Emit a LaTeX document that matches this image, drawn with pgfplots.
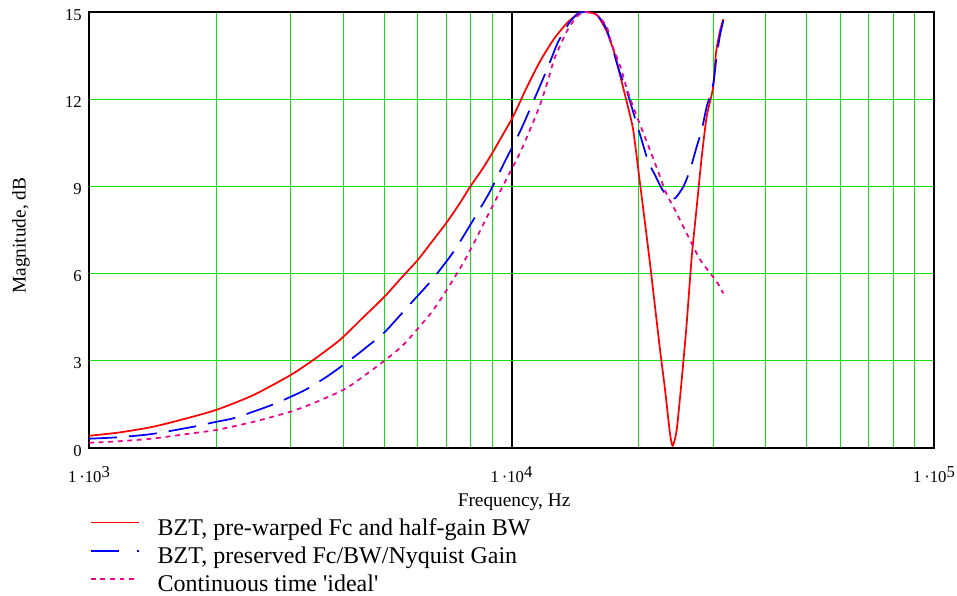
\documentclass[border=0pt]{standalone}
\usepackage{fontspec}
\setmainfont{Liberation Serif}
\usepackage{pgfplots}
\pgfplotsset{compat=1.18}
\definecolor{gridgreen}{RGB}{20,225,20}
\newcommand{\tl}[1]{1\,·10\raisebox{3.2pt}{#1}}
\begin{document}
\begin{tikzpicture}
\begin{axis}[
  at={(0,0)}, anchor=south west,
  scale only axis, width=633.75pt, height=327pt,
  xmode=log, xmin=1000, xmax=100000,
  ymin=0, ymax=15,
  xtick={1000,10000,100000},
  xticklabels={\tl{3},\tl{4},\tl{5}},
  minor xtick={2000,3000,4000,5000,6000,7000,8000,9000,20000,30000,40000,50000,60000,70000,80000,90000},
  ytick={0,3,6,9,12,15},
  yticklabels={0,3,6,9,12,15},
  xmajorgrids, xminorgrids, ymajorgrids,
  major x grid style={black, line width=1.5pt},
  minor x grid style={gridgreen, line width=0.75pt},
  major y grid style={gridgreen, line width=0.75pt},
  major tick length=0pt, minor tick length=0pt,
  axis line style={line width=1.5pt, black},
  tick label style={font=\fontsize{12.5}{15}\selectfont},
  xticklabel style={anchor=base, inner sep=0pt, yshift=-25.5pt},
  yticklabel style={anchor=east, inner sep=0pt, xshift=-5.25pt, yshift=-2pt},
  xlabel={Frequency, Hz},
  ylabel={Magnitude, dB},
  every axis x label/.style={at={(axis description cs:0.503,-0.1353)}, anchor=base, font=\fontsize{14.5}{17}\selectfont},
  every axis y label/.style={at={(axis description cs:-0.0805,0.487)}, rotate=90, anchor=center, font=\fontsize{14.5}{17}\selectfont},
  legend style={draw=none, fill=none, inner sep=0pt, outer sep=0pt,
    at={(axis description cs:0.001,-0.157)}, anchor=north west,
    font=\fontsize{18}{21.25}\selectfont, row sep=0pt,
    nodes={inner sep=0pt, text height=14pt, text depth=7.25pt}},
  legend cell align=left,
  legend image code/.code={\path[draw=none] (0pt,0pt) -- (50.25pt,0pt); \draw[#1] (0pt,6pt) -- (36pt,6pt);},
]
\addplot[red, line width=1.3pt, smooth, tension=0.4] table {
1000 0.42
1173 0.53
1406 0.72
1642 0.96
2000 1.31
2449 1.82
3000 2.51
3396 3.03
3927 3.72
4460 4.5
5000 5.2
5475 5.84
6000 6.47
6483 7.1
7000 7.73
7499 8.36
8000 9.01
8500 9.56
9000 10.14
9478 10.71
10000 11.3
10470 11.9
10860 12.4
11680 13.3
12570 14.05
13510 14.61
14390 14.95
14930 15.0
15910 14.9
16800 14.33
17580 13.52
18230 12.6
18900 11.69
19430 10.9
20140 9.11
20700 7.73
21270 6.35
21860 4.86
22470 3.37
23090 2.0
23720 0.5
24070 0.08
24600 0.62
25280 2.34
25980 4.29
26700 6.58
27440 8.3
28200 10.02
28970 11.4
30000 12.4
30480 13.6
31150 14.35
31720 14.75
};
\addlegendentry{BZT, pre-warped Fc and half-gain BW}
\addplot[blue, line width=1.3pt, smooth, tension=0.4, dash pattern=on 21pt off 9pt,
  legend image code/.code={\path[draw=none] (0pt,0pt) -- (50.25pt,0pt); \draw[blue, line width=1.3pt] (0pt,6pt) -- (25pt,6pt); \draw[blue, line width=1.3pt] (35pt,6pt) -- (36.2pt,6pt);}] table {
1000 0.32
1173 0.37
1406 0.48
1735 0.71
2000 0.9
2195 1.02
2449 1.25
2729 1.5
3000 1.76
3270 2.02
3652 2.45
4000 2.86
4300 3.2
4502 3.43
5020 4.0
5753 4.95
6480 5.78
7290 6.75
8115 7.84
8890 8.82
9640 9.85
10470 10.88
11260 11.92
11890 12.72
12340 13.29
12900 13.98
13750 14.66
14390 14.95
14930 15.0
15910 14.9
16800 14.4
18000 12.95
18740 12.3
19600 11.35
20320 10.6
21070 9.85
21860 9.39
22670 8.93
23500 8.62
24380 8.59
25510 8.99
26450 9.56
27440 10.37
28200 10.94
28970 11.74
30000 12.5
30600 13.5
31150 14.2
31720 14.7
};
\addlegendentry{BZT, preserved Fc/BW/Nyquist Gain}
\addplot[magenta, line width=1.3pt, smooth, tension=0.4, dash pattern=on 3.6pt off 3.6pt] table {
1000 0.18
1173 0.23
1406 0.32
1642 0.45
2000 0.62
2449 0.9
3000 1.25
3396 1.54
4000 2.0
4379 2.38
5000 3.0
5546 3.55
6412 4.6
6964 5.35
7675 6.35
8180 7.1
8890 8.15
9730 9.25
10470 10.15
11060 10.95
11680 11.8
12200 12.65
12640 13.4
13510 14.33
14270 14.84
14930 15.0
15910 14.9
16800 14.5
17260 13.9
18100 13.12
18900 12.2
19960 11.28
21270 10.25
22250 9.5
23240 8.76
24380 8.19
25510 7.61
26700 7.04
27800 6.53
29140 6.12
30600 5.72
31720 5.32
};
\addlegendentry{Continuous time \textquotesingle ideal\textquotesingle}
\end{axis}
\pgfresetboundingbox
\useasboundingbox (-66.75pt,-111pt) rectangle (651pt,336pt);
\end{tikzpicture}
\end{document}
